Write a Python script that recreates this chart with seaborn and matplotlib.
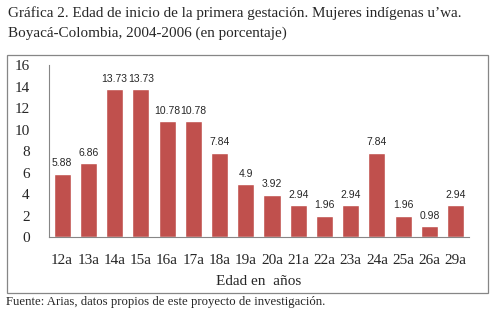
import numpy as np
import pandas as pd
import matplotlib
matplotlib.use("Agg")
import matplotlib.pyplot as plt
from matplotlib.patches import Rectangle
import seaborn as sns

# datos
edades = ["12a", "13a", "14a", "15a", "16a", "17a", "18a", "19a",
          "20a", "21a", "22a", "23a", "24a", "25a", "26a", "29a"]
porcentajes = [5.88, 6.86, 13.73, 13.73, 10.78, 10.78, 7.84, 4.9,
               3.92, 2.94, 1.96, 2.94, 7.84, 1.96, 0.98, 2.94]
etiquetas = ["5.88", "6.86", "13.73", "13.73", "10.78", "10.78", "7.84", "4.9",
             "3.92", "2.94", "1.96", "2.94", "7.84", "1.96", "0.98", "2.94"]

df = pd.DataFrame({"edad": edades, "pct": porcentajes})

sns.set_style("white")
serif = ["Liberation Serif", "DejaVu Serif"]
gris = "#868686"

fig = plt.figure(figsize=(4.95, 3.16), dpi=100)
ax = fig.add_axes([0.099, 0.25, 0.848, 0.544])

sns.barplot(data=df, x="edad", y="pct", color="#C0504D", saturation=1,
            width=0.65, ax=ax)
ax.bar_label(ax.containers[0], labels=etiquetas, padding=4, fontsize=7.5,
             family="Liberation Sans")

ax.set_ylim(0, 16)
ax.set_xlim(-0.5, len(edades) - 0.5)
ax.set_yticks(range(0, 17, 2))
ax.set_xticks(np.arange(len(edades)), minor=False)
ax.set_xticks(np.arange(-0.5, len(edades)), minor=True)
ax.tick_params(axis="x", which="major", length=0, pad=12, labelsize=11)
ax.tick_params(axis="x", which="minor", length=4, color=gris, width=0.8)
ax.tick_params(axis="y", length=4, color=gris, width=0.8, labelsize=11, pad=10)
for lbl in ax.get_xticklabels() + ax.get_yticklabels():
    lbl.set_family(serif)

ax.set_xlabel("Edad en  años", family=serif, fontsize=11, labelpad=6)
ax.set_ylabel("")
sns.despine(ax=ax)
for s in ["left", "bottom"]:
    ax.spines[s].set_color(gris)
    ax.spines[s].set_linewidth(0.8)

# marco del grafico
fig.patches.append(Rectangle((7 / 495, 1 - 293 / 316), 481 / 495, 238 / 316,
                             transform=fig.transFigure, fill=False,
                             edgecolor=gris, linewidth=0.9))

fig.text(8 / 495, 1 - 13 / 316, "Gráfica 2. Edad de inicio de la primera gestación. Mujeres indígenas u’wa.",
         family=serif, fontsize=10.9, va="center", ha="left")
fig.text(8 / 495, 1 - 33 / 316, "Boyacá-Colombia, 2004-2006 (en porcentaje)",
         family=serif, fontsize=10.9, va="center", ha="left")
fig.text(6 / 495, 1 - 302 / 316, "Fuente: Arias, datos propios de este proyecto de investigación.",
         family=serif, fontsize=9.2, va="center", ha="left")

fig.savefig("out.png", dpi=100)
